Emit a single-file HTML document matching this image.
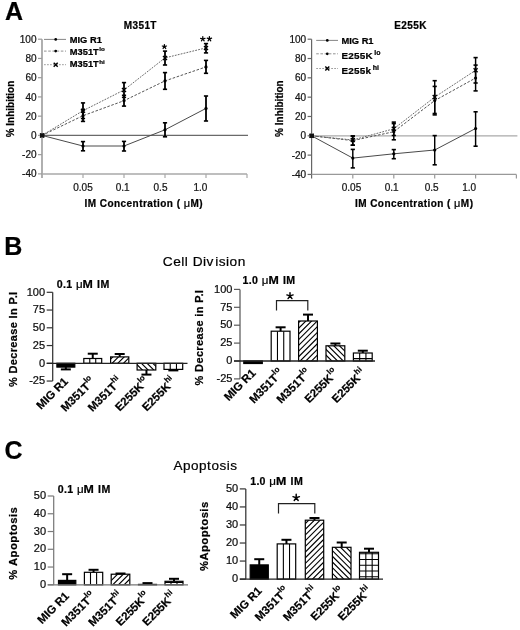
<!DOCTYPE html>
<html><head><meta charset="utf-8"><style>
html,body{margin:0;padding:0;background:#fff;}
svg{display:block;font-family:"Liberation Sans", sans-serif;filter:blur(0.35px);}
text{stroke:#000;stroke-width:0.22px;}
</style></head><body>
<svg width="520" height="630" viewBox="0 0 520 630">
<rect width="520" height="630" fill="#fff"/>
<line x1="42" y1="39.2" x2="42" y2="177.88" stroke="#9c9c9c" stroke-width="1.6" />
<line x1="38" y1="39.2" x2="42" y2="39.2" stroke="#9c9c9c" stroke-width="1.2" />
<text x="36.5" y="42.800000000000004" font-size="10" font-weight="normal" text-anchor="end" fill="#222" >100</text>
<line x1="38" y1="58.44000000000001" x2="42" y2="58.44000000000001" stroke="#9c9c9c" stroke-width="1.2" />
<text x="36.5" y="62.04000000000001" font-size="10" font-weight="normal" text-anchor="end" fill="#222" >80</text>
<line x1="38" y1="77.68" x2="42" y2="77.68" stroke="#9c9c9c" stroke-width="1.2" />
<text x="36.5" y="81.28" font-size="10" font-weight="normal" text-anchor="end" fill="#222" >60</text>
<line x1="38" y1="96.92000000000002" x2="42" y2="96.92000000000002" stroke="#9c9c9c" stroke-width="1.2" />
<text x="36.5" y="100.52000000000001" font-size="10" font-weight="normal" text-anchor="end" fill="#222" >40</text>
<line x1="38" y1="116.16000000000001" x2="42" y2="116.16000000000001" stroke="#9c9c9c" stroke-width="1.2" />
<text x="36.5" y="119.76" font-size="10" font-weight="normal" text-anchor="end" fill="#222" >20</text>
<line x1="38" y1="135.4" x2="42" y2="135.4" stroke="#9c9c9c" stroke-width="1.2" />
<text x="36.5" y="139.0" font-size="10" font-weight="normal" text-anchor="end" fill="#222" >0</text>
<line x1="38" y1="154.64000000000001" x2="42" y2="154.64000000000001" stroke="#9c9c9c" stroke-width="1.2" />
<text x="36.5" y="158.24" font-size="10" font-weight="normal" text-anchor="end" fill="#222" >-20</text>
<line x1="38" y1="173.88" x2="42" y2="173.88" stroke="#9c9c9c" stroke-width="1.2" />
<text x="36.5" y="177.48" font-size="10" font-weight="normal" text-anchor="end" fill="#222" >-40</text>
<line x1="42" y1="173.88" x2="247" y2="173.88" stroke="#a8a8a8" stroke-width="1.5" />
<line x1="83" y1="173.88" x2="83" y2="177.88" stroke="#a8a8a8" stroke-width="1.2" />
<line x1="124" y1="173.88" x2="124" y2="177.88" stroke="#a8a8a8" stroke-width="1.2" />
<line x1="165" y1="173.88" x2="165" y2="177.88" stroke="#a8a8a8" stroke-width="1.2" />
<line x1="206" y1="173.88" x2="206" y2="177.88" stroke="#a8a8a8" stroke-width="1.2" />
<line x1="247" y1="173.88" x2="247" y2="177.88" stroke="#a8a8a8" stroke-width="1.2" />
<line x1="42" y1="135.4" x2="248" y2="135.4" stroke="#6a6a6a" stroke-width="1.3" />
<text x="83" y="190.5" font-size="10" font-weight="normal" text-anchor="middle" fill="#222" >0.05</text>
<text x="122.6" y="190.5" font-size="10" font-weight="normal" text-anchor="middle" fill="#222" >0.1</text>
<text x="160.5" y="190.5" font-size="10" font-weight="normal" text-anchor="middle" fill="#222" >0.5</text>
<text x="200.4" y="190.5" font-size="10" font-weight="normal" text-anchor="middle" fill="#222" >1.0</text>
<text x="143.8" y="207.2" font-size="10" font-weight="bold" text-anchor="middle" fill="#000" letter-spacing="0.45">IM Concentration ( <tspan font-weight="normal" font-size="11">&#956;</tspan>M)</text>
<text transform="translate(13.8,109) rotate(-90)" font-size="10" font-weight="bold" text-anchor="middle">% Inhibition</text>
<text x="140.3" y="28.8" font-size="10" font-weight="bold" text-anchor="middle" fill="#000" letter-spacing="0.4">M351T</text>
<polyline points="42,135.4 83,146.0 124,146.0 165,129.8 206,108.4" fill="none" stroke="#4a4a4a" stroke-width="1" />
<polyline points="42,135.4 83,115.7 124,100.7 165,80.9 206,66.9" fill="none" stroke="#555" stroke-width="1" stroke-dasharray="2.6,1.6"/>
<polyline points="42,135.4 83,110.7 124,90 165,57.9 206,47.9" fill="none" stroke="#6a6a6a" stroke-width="1" stroke-dasharray="1.8,1.2"/>
<line x1="83" y1="141.6" x2="83" y2="150.8" stroke="#000" stroke-width="1.8" />
<line x1="80.9" y1="141.6" x2="85.1" y2="141.6" stroke="#000" stroke-width="1.6" />
<line x1="80.9" y1="150.8" x2="85.1" y2="150.8" stroke="#000" stroke-width="1.6" />
<line x1="124" y1="141.4" x2="124" y2="151" stroke="#000" stroke-width="1.8" />
<line x1="121.9" y1="141.4" x2="126.1" y2="141.4" stroke="#000" stroke-width="1.6" />
<line x1="121.9" y1="151" x2="126.1" y2="151" stroke="#000" stroke-width="1.6" />
<line x1="165" y1="122.8" x2="165" y2="136.8" stroke="#000" stroke-width="1.8" />
<line x1="162.9" y1="122.8" x2="167.1" y2="122.8" stroke="#000" stroke-width="1.6" />
<line x1="162.9" y1="136.8" x2="167.1" y2="136.8" stroke="#000" stroke-width="1.6" />
<line x1="206" y1="96" x2="206" y2="121" stroke="#000" stroke-width="1.8" />
<line x1="203.9" y1="96" x2="208.1" y2="96" stroke="#000" stroke-width="1.6" />
<line x1="203.9" y1="121" x2="208.1" y2="121" stroke="#000" stroke-width="1.6" />
<circle cx="42" cy="135.4" r="1.6" fill="#000"/>
<circle cx="83" cy="146.0" r="1.6" fill="#000"/>
<circle cx="124" cy="146.0" r="1.6" fill="#000"/>
<circle cx="165" cy="129.8" r="1.6" fill="#000"/>
<circle cx="206" cy="108.4" r="1.6" fill="#000"/>
<line x1="83" y1="110" x2="83" y2="121.4" stroke="#000" stroke-width="1.8" />
<line x1="80.9" y1="110" x2="85.1" y2="110" stroke="#000" stroke-width="1.6" />
<line x1="80.9" y1="121.4" x2="85.1" y2="121.4" stroke="#000" stroke-width="1.6" />
<line x1="124" y1="95.3" x2="124" y2="106.1" stroke="#000" stroke-width="1.8" />
<line x1="121.9" y1="95.3" x2="126.1" y2="95.3" stroke="#000" stroke-width="1.6" />
<line x1="121.9" y1="106.1" x2="126.1" y2="106.1" stroke="#000" stroke-width="1.6" />
<line x1="165" y1="72.6" x2="165" y2="89.3" stroke="#000" stroke-width="1.8" />
<line x1="162.9" y1="72.6" x2="167.1" y2="72.6" stroke="#000" stroke-width="1.6" />
<line x1="162.9" y1="89.3" x2="167.1" y2="89.3" stroke="#000" stroke-width="1.6" />
<line x1="206" y1="60.4" x2="206" y2="73.3" stroke="#000" stroke-width="1.8" />
<line x1="203.9" y1="60.4" x2="208.1" y2="60.4" stroke="#000" stroke-width="1.6" />
<line x1="203.9" y1="73.3" x2="208.1" y2="73.3" stroke="#000" stroke-width="1.6" />
<circle cx="42" cy="135.4" r="1.6" fill="#000"/>
<circle cx="83" cy="115.7" r="1.6" fill="#000"/>
<circle cx="124" cy="100.7" r="1.6" fill="#000"/>
<circle cx="165" cy="80.9" r="1.6" fill="#000"/>
<circle cx="206" cy="66.9" r="1.6" fill="#000"/>
<line x1="83" y1="102.9" x2="83" y2="118.5" stroke="#000" stroke-width="1.8" />
<line x1="80.9" y1="102.9" x2="85.1" y2="102.9" stroke="#000" stroke-width="1.6" />
<line x1="80.9" y1="118.5" x2="85.1" y2="118.5" stroke="#000" stroke-width="1.6" />
<line x1="124" y1="82.6" x2="124" y2="97.4" stroke="#000" stroke-width="1.8" />
<line x1="121.9" y1="82.6" x2="126.1" y2="82.6" stroke="#000" stroke-width="1.6" />
<line x1="121.9" y1="97.4" x2="126.1" y2="97.4" stroke="#000" stroke-width="1.6" />
<line x1="165" y1="51.1" x2="165" y2="65" stroke="#000" stroke-width="1.8" />
<line x1="162.9" y1="51.1" x2="167.1" y2="51.1" stroke="#000" stroke-width="1.6" />
<line x1="162.9" y1="65" x2="167.1" y2="65" stroke="#000" stroke-width="1.6" />
<line x1="206" y1="43.6" x2="206" y2="52.9" stroke="#000" stroke-width="1.8" />
<line x1="203.9" y1="43.6" x2="208.1" y2="43.6" stroke="#000" stroke-width="1.6" />
<line x1="203.9" y1="52.9" x2="208.1" y2="52.9" stroke="#000" stroke-width="1.6" />
<path d="M40.0,133.4 L44.0,137.4 M44.0,133.4 L40.0,137.4" stroke="#000" stroke-width="1.4"/>
<path d="M81.0,108.7 L85.0,112.7 M85.0,108.7 L81.0,112.7" stroke="#000" stroke-width="1.4"/>
<path d="M122.0,88.0 L126.0,92.0 M126.0,88.0 L122.0,92.0" stroke="#000" stroke-width="1.4"/>
<path d="M163.0,55.9 L167.0,59.9 M167.0,55.9 L163.0,59.9" stroke="#000" stroke-width="1.4"/>
<path d="M204.0,45.9 L208.0,49.9 M208.0,45.9 L204.0,49.9" stroke="#000" stroke-width="1.4"/>
<line x1="44" y1="39.4" x2="66" y2="39.4" stroke="#666" stroke-width="0.8" />
<circle cx="55.7" cy="39.4" r="1.36" fill="#000"/>
<text x="69.8" y="42.8" font-size="9.3" font-weight="bold" text-anchor="start" fill="#000" >MIG R1</text>
<line x1="44" y1="51.1" x2="66" y2="51.1" stroke="#777" stroke-width="0.8" stroke-dasharray="2.6,1.6"/>
<circle cx="55.7" cy="51.1" r="1.36" fill="#000"/>
<text x="69.8" y="54.6" font-size="9.3" font-weight="bold" letter-spacing="0">M351T<tspan font-size="6.2" dx="0.6" dy="-3.8" letter-spacing="0">lo</tspan></text>
<line x1="44" y1="64.7" x2="66" y2="64.7" stroke="#888" stroke-width="0.8" stroke-dasharray="1.8,1.2"/>
<path d="M53.7,62.7 L57.7,66.7 M57.7,62.7 L53.7,66.7" stroke="#000" stroke-width="1.4"/>
<text x="69.8" y="67.4" font-size="9.3" font-weight="bold" letter-spacing="0">M351T<tspan font-size="6.2" dx="0.6" dy="-3.8" letter-spacing="0">hi</tspan></text>
<rect x="40" y="133.4" width="4.5" height="4" fill="#111"/>
<text x="5" y="20" font-size="25" font-weight="bold">A</text>
<path id="astA1" d="M164.40,46.70 L164.40,44.50 M164.40,46.70 L166.49,46.02 M164.40,46.70 L165.69,48.48 M164.40,46.70 L163.11,48.48 M164.40,46.70 L162.31,46.02" stroke="#000" stroke-width="1.25" stroke-linecap="round" fill="none"/>
<path id="astA2" d="M202.80,39.00 L202.80,36.70 M202.80,39.00 L204.99,38.29 M202.80,39.00 L204.15,40.86 M202.80,39.00 L201.45,40.86 M202.80,39.00 L200.61,38.29" stroke="#000" stroke-width="1.25" stroke-linecap="round" fill="none"/>
<path id="astA3" d="M209.40,38.90 L209.40,36.60 M209.40,38.90 L211.59,38.19 M209.40,38.90 L210.75,40.76 M209.40,38.90 L208.05,40.76 M209.40,38.90 L207.21,38.19" stroke="#000" stroke-width="1.25" stroke-linecap="round" fill="none"/>
<line x1="311.6" y1="39.20000000000002" x2="311.6" y2="178.44" stroke="#666" stroke-width="1.2" />
<line x1="307.6" y1="39.20000000000002" x2="311.6" y2="39.20000000000002" stroke="#666" stroke-width="1.2" />
<text x="306.1" y="42.80000000000002" font-size="10" font-weight="normal" text-anchor="end" fill="#222" >100</text>
<line x1="307.6" y1="58.52000000000001" x2="311.6" y2="58.52000000000001" stroke="#666" stroke-width="1.2" />
<text x="306.1" y="62.12000000000001" font-size="10" font-weight="normal" text-anchor="end" fill="#222" >80</text>
<line x1="307.6" y1="77.84" x2="311.6" y2="77.84" stroke="#666" stroke-width="1.2" />
<text x="306.1" y="81.44" font-size="10" font-weight="normal" text-anchor="end" fill="#222" >60</text>
<line x1="307.6" y1="97.16000000000001" x2="311.6" y2="97.16000000000001" stroke="#666" stroke-width="1.2" />
<text x="306.1" y="100.76" font-size="10" font-weight="normal" text-anchor="end" fill="#222" >40</text>
<line x1="307.6" y1="116.48000000000002" x2="311.6" y2="116.48000000000002" stroke="#666" stroke-width="1.2" />
<text x="306.1" y="120.08000000000001" font-size="10" font-weight="normal" text-anchor="end" fill="#222" >20</text>
<line x1="307.6" y1="135.8" x2="311.6" y2="135.8" stroke="#666" stroke-width="1.2" />
<text x="306.1" y="139.4" font-size="10" font-weight="normal" text-anchor="end" fill="#222" >0</text>
<line x1="307.6" y1="155.12" x2="311.6" y2="155.12" stroke="#666" stroke-width="1.2" />
<text x="306.1" y="158.72" font-size="10" font-weight="normal" text-anchor="end" fill="#222" >-20</text>
<line x1="307.6" y1="174.44" x2="311.6" y2="174.44" stroke="#666" stroke-width="1.2" />
<text x="306.1" y="178.04" font-size="10" font-weight="normal" text-anchor="end" fill="#222" >-40</text>
<line x1="311.6" y1="174.44" x2="516.4" y2="174.44" stroke="#999" stroke-width="1.2" />
<line x1="352.8" y1="174.44" x2="352.8" y2="178.44" stroke="#999" stroke-width="1.2" />
<line x1="393.8" y1="174.44" x2="393.8" y2="178.44" stroke="#999" stroke-width="1.2" />
<line x1="434.7" y1="174.44" x2="434.7" y2="178.44" stroke="#999" stroke-width="1.2" />
<line x1="475.6" y1="174.44" x2="475.6" y2="178.44" stroke="#999" stroke-width="1.2" />
<line x1="516.4" y1="174.44" x2="516.4" y2="178.44" stroke="#999" stroke-width="1.2" />
<line x1="311.6" y1="135.8" x2="517.4" y2="135.8" stroke="#aaaaaa" stroke-width="1.3" />
<text x="351.5" y="190.5" font-size="10" font-weight="normal" text-anchor="middle" fill="#222" >0.05</text>
<text x="391.6" y="190.5" font-size="10" font-weight="normal" text-anchor="middle" fill="#222" >0.1</text>
<text x="431.6" y="190.5" font-size="10" font-weight="normal" text-anchor="middle" fill="#222" >0.5</text>
<text x="469.2" y="190.5" font-size="10" font-weight="normal" text-anchor="middle" fill="#222" >1.0</text>
<text x="414.2" y="207.2" font-size="10" font-weight="bold" text-anchor="middle" fill="#000" letter-spacing="0.45">IM Concentration ( <tspan font-weight="normal" font-size="11">&#956;</tspan>M)</text>
<text transform="translate(282.5,108.6) rotate(-90)" font-size="10" font-weight="bold" text-anchor="middle">% Inhibition</text>
<text x="410.6" y="28.9" font-size="10" font-weight="bold" text-anchor="middle" fill="#000" letter-spacing="0.4">E255K</text>
<polyline points="311.6,135.8 352.8,158.1 393.8,153.8 434.7,150 475.6,128.5" fill="none" stroke="#4a4a4a" stroke-width="1" />
<polyline points="311.6,135.8 352.8,140.6 393.8,131.7 434.7,100.6 475.6,78" fill="none" stroke="#555" stroke-width="1" stroke-dasharray="2.6,1.6"/>
<polyline points="311.6,135.8 352.8,140.0 393.8,128.8 434.7,97.1 475.6,70.3" fill="none" stroke="#6a6a6a" stroke-width="1" stroke-dasharray="1.8,1.2"/>
<line x1="352.8" y1="149.4" x2="352.8" y2="167.9" stroke="#000" stroke-width="1.45" />
<line x1="350.7" y1="149.4" x2="354.90000000000003" y2="149.4" stroke="#000" stroke-width="1.6" />
<line x1="350.7" y1="167.9" x2="354.90000000000003" y2="167.9" stroke="#000" stroke-width="1.6" />
<line x1="393.8" y1="149.6" x2="393.8" y2="158.7" stroke="#000" stroke-width="1.45" />
<line x1="391.7" y1="149.6" x2="395.90000000000003" y2="149.6" stroke="#000" stroke-width="1.6" />
<line x1="391.7" y1="158.7" x2="395.90000000000003" y2="158.7" stroke="#000" stroke-width="1.6" />
<line x1="434.7" y1="135.6" x2="434.7" y2="164.8" stroke="#000" stroke-width="1.45" />
<line x1="432.59999999999997" y1="135.6" x2="436.8" y2="135.6" stroke="#000" stroke-width="1.6" />
<line x1="432.59999999999997" y1="164.8" x2="436.8" y2="164.8" stroke="#000" stroke-width="1.6" />
<line x1="475.6" y1="111.8" x2="475.6" y2="146.2" stroke="#000" stroke-width="1.45" />
<line x1="473.5" y1="111.8" x2="477.70000000000005" y2="111.8" stroke="#000" stroke-width="1.6" />
<line x1="473.5" y1="146.2" x2="477.70000000000005" y2="146.2" stroke="#000" stroke-width="1.6" />
<circle cx="311.6" cy="135.8" r="1.6" fill="#000"/>
<circle cx="352.8" cy="158.1" r="1.6" fill="#000"/>
<circle cx="393.8" cy="153.8" r="1.6" fill="#000"/>
<circle cx="434.7" cy="150" r="1.6" fill="#000"/>
<circle cx="475.6" cy="128.5" r="1.6" fill="#000"/>
<line x1="352.8" y1="136.0" x2="352.8" y2="145.2" stroke="#000" stroke-width="1.45" />
<line x1="350.7" y1="136.0" x2="354.90000000000003" y2="136.0" stroke="#000" stroke-width="1.6" />
<line x1="350.7" y1="145.2" x2="354.90000000000003" y2="145.2" stroke="#000" stroke-width="1.6" />
<line x1="393.8" y1="123.6" x2="393.8" y2="139.8" stroke="#000" stroke-width="1.45" />
<line x1="391.7" y1="123.6" x2="395.90000000000003" y2="123.6" stroke="#000" stroke-width="1.6" />
<line x1="391.7" y1="139.8" x2="395.90000000000003" y2="139.8" stroke="#000" stroke-width="1.6" />
<line x1="434.7" y1="86.4" x2="434.7" y2="114.9" stroke="#000" stroke-width="1.45" />
<line x1="432.59999999999997" y1="86.4" x2="436.8" y2="86.4" stroke="#000" stroke-width="1.6" />
<line x1="432.59999999999997" y1="114.9" x2="436.8" y2="114.9" stroke="#000" stroke-width="1.6" />
<line x1="475.6" y1="65.1" x2="475.6" y2="90.9" stroke="#000" stroke-width="1.45" />
<line x1="473.5" y1="65.1" x2="477.70000000000005" y2="65.1" stroke="#000" stroke-width="1.6" />
<line x1="473.5" y1="90.9" x2="477.70000000000005" y2="90.9" stroke="#000" stroke-width="1.6" />
<circle cx="311.6" cy="135.8" r="1.6" fill="#000"/>
<circle cx="352.8" cy="140.6" r="1.6" fill="#000"/>
<circle cx="393.8" cy="131.7" r="1.6" fill="#000"/>
<circle cx="434.7" cy="100.6" r="1.6" fill="#000"/>
<circle cx="475.6" cy="78" r="1.6" fill="#000"/>
<line x1="352.8" y1="136.0" x2="352.8" y2="145.2" stroke="#000" stroke-width="1.45" />
<line x1="350.7" y1="136.0" x2="354.90000000000003" y2="136.0" stroke="#000" stroke-width="1.6" />
<line x1="350.7" y1="145.2" x2="354.90000000000003" y2="145.2" stroke="#000" stroke-width="1.6" />
<line x1="393.8" y1="122.1" x2="393.8" y2="135.5" stroke="#000" stroke-width="1.45" />
<line x1="391.7" y1="122.1" x2="395.90000000000003" y2="122.1" stroke="#000" stroke-width="1.6" />
<line x1="391.7" y1="135.5" x2="395.90000000000003" y2="135.5" stroke="#000" stroke-width="1.6" />
<line x1="434.7" y1="80.7" x2="434.7" y2="113.5" stroke="#000" stroke-width="1.45" />
<line x1="432.59999999999997" y1="80.7" x2="436.8" y2="80.7" stroke="#000" stroke-width="1.6" />
<line x1="432.59999999999997" y1="113.5" x2="436.8" y2="113.5" stroke="#000" stroke-width="1.6" />
<line x1="475.6" y1="57.6" x2="475.6" y2="83" stroke="#000" stroke-width="1.45" />
<line x1="473.5" y1="57.6" x2="477.70000000000005" y2="57.6" stroke="#000" stroke-width="1.6" />
<line x1="473.5" y1="83" x2="477.70000000000005" y2="83" stroke="#000" stroke-width="1.6" />
<path d="M309.6,133.8 L313.6,137.8 M313.6,133.8 L309.6,137.8" stroke="#000" stroke-width="1.4"/>
<path d="M350.8,138.0 L354.8,142.0 M354.8,138.0 L350.8,142.0" stroke="#000" stroke-width="1.4"/>
<path d="M391.8,126.80000000000001 L395.8,130.8 M395.8,126.80000000000001 L391.8,130.8" stroke="#000" stroke-width="1.4"/>
<path d="M432.7,95.1 L436.7,99.1 M436.7,95.1 L432.7,99.1" stroke="#000" stroke-width="1.4"/>
<path d="M473.6,68.3 L477.6,72.3 M477.6,68.3 L473.6,72.3" stroke="#000" stroke-width="1.4"/>
<line x1="316.2" y1="40.4" x2="338" y2="40.4" stroke="#666" stroke-width="0.8" />
<circle cx="327.3" cy="40.4" r="1.36" fill="#000"/>
<text x="341.5" y="44" font-size="9.3" font-weight="bold" text-anchor="start" fill="#000" >MIG R1</text>
<line x1="316.2" y1="53.8" x2="338" y2="53.8" stroke="#777" stroke-width="0.8" stroke-dasharray="2.6,1.6"/>
<circle cx="327.3" cy="53.8" r="1.36" fill="#000"/>
<text x="341.5" y="59.3" font-size="9.9" font-weight="bold" letter-spacing="0.25">E255K<tspan font-size="7" dx="1.4" dy="-4.4" letter-spacing="0">lo</tspan></text>
<line x1="316.2" y1="68.5" x2="338" y2="68.5" stroke="#888" stroke-width="0.8" stroke-dasharray="1.8,1.2"/>
<path d="M325.3,66.5 L329.3,70.5 M329.3,66.5 L325.3,70.5" stroke="#000" stroke-width="1.4"/>
<text x="341.5" y="74.2" font-size="9.9" font-weight="bold" letter-spacing="0.25">E255k<tspan font-size="7" dx="1.4" dy="-4.4" letter-spacing="0">hi</tspan></text>
<rect x="309.5" y="133.8" width="4.5" height="4" fill="#111"/>
<defs>
<pattern id="pv" patternUnits="userSpaceOnUse" width="6.2" height="10"><rect width="6.2" height="10" fill="#fff"/><line x1="0" y1="0" x2="0" y2="10" stroke="#000" stroke-width="1.2"/></pattern>
<pattern id="pf" patternUnits="userSpaceOnUse" width="5.7" height="5.7" patternTransform="rotate(0)"><rect width="5.7" height="5.7" fill="#fff"/><path d="M-1,6.7 L6.7,-1 M-1,1 L1,-1 M4.7,6.7 L6.7,4.7" stroke="#000" stroke-width="1.1"/></pattern>
<pattern id="pb" patternUnits="userSpaceOnUse" width="5.7" height="5.7"><rect width="5.7" height="5.7" fill="#fff"/><path d="M-1,-1 L6.7,6.7 M4.7,-1 L6.7,1 M-1,4.7 L1,6.7" stroke="#000" stroke-width="1.1"/></pattern>
<pattern id="pg" patternUnits="userSpaceOnUse" width="6.2" height="5.8"><rect width="6.2" height="5.8" fill="#fff"/><path d="M0,0 L0,5.8 M0,0 L6.2,0" stroke="#000" stroke-width="1.2"/></pattern>
</defs>
<text x="4.3" y="255" font-size="25" font-weight="bold">B</text>
<text id="cdv" x="162.8" y="266.2" font-size="13.7" stroke="#000" stroke-width="0.3" letter-spacing="0.5">Cell Div<tspan dx="1.2">ision</tspan></text>
<line x1="52.7" y1="292.3" x2="52.7" y2="381.05" stroke="#333" stroke-width="1.25" />
<line x1="46.7" y1="292.3" x2="52.7" y2="292.3" stroke="#333" stroke-width="1.2" />
<text x="45.1" y="295.5" font-size="11" font-weight="normal" text-anchor="end" fill="#111" >100</text>
<line x1="46.7" y1="310.05" x2="52.7" y2="310.05" stroke="#333" stroke-width="1.2" />
<text x="45.1" y="313.25" font-size="11" font-weight="normal" text-anchor="end" fill="#111" >75</text>
<line x1="46.7" y1="327.8" x2="52.7" y2="327.8" stroke="#333" stroke-width="1.2" />
<text x="45.1" y="331.0" font-size="11" font-weight="normal" text-anchor="end" fill="#111" >50</text>
<line x1="46.7" y1="345.55" x2="52.7" y2="345.55" stroke="#333" stroke-width="1.2" />
<text x="45.1" y="348.75" font-size="11" font-weight="normal" text-anchor="end" fill="#111" >25</text>
<line x1="46.7" y1="363.3" x2="52.7" y2="363.3" stroke="#333" stroke-width="1.2" />
<text x="45.1" y="366.5" font-size="11" font-weight="normal" text-anchor="end" fill="#111" >0</text>
<line x1="46.7" y1="381.05" x2="52.7" y2="381.05" stroke="#333" stroke-width="1.2" />
<text x="45.1" y="384.25" font-size="11" font-weight="normal" text-anchor="end" fill="#111" >-25</text>
<text y="288.0" font-size="10.6" font-weight="bold"><tspan x="56.8" letter-spacing="0.3">0.1</tspan><tspan x="75.9" font-weight="normal" font-size="11.6">&#956;</tspan><tspan x="97.1" letter-spacing="0.5">IM</tspan></text>
<text transform="translate(82.6,288.0) scale(1.17,1)" font-size="10.6" font-weight="bold">M</text>
<rect x="56.9" y="363.3" width="17.9" height="3.8000000000000114" fill="#000" stroke="#000" stroke-width="1.2"/>
<line x1="65.85" y1="367.1" x2="65.85" y2="369.4" stroke="#000" stroke-width="2" />
<line x1="60.849999999999994" y1="369.4" x2="70.85" y2="369.4" stroke="#000" stroke-width="2" />
<clipPath id="cb1"><rect x="83.8" y="358.5" width="17.900000000000006" height="4.800000000000011"/></clipPath>
<rect x="83.8" y="358.5" width="17.900000000000006" height="4.800000000000011" fill="#fff"/>
<path clip-path="url(#cb1)" d="M89.77,358.5 V363.3 M95.73,358.5 V363.3" stroke="#000" stroke-width="1.1" fill="none"/>
<rect x="83.8" y="358.5" width="17.900000000000006" height="4.800000000000011" fill="none" stroke="#000" stroke-width="1.2"/>
<line x1="92.75" y1="358.5" x2="92.75" y2="353.7" stroke="#000" stroke-width="2" />
<line x1="87.75" y1="353.7" x2="97.75" y2="353.7" stroke="#000" stroke-width="2" />
<clipPath id="cb2"><rect x="110.6" y="356.9" width="18.200000000000017" height="6.400000000000034"/></clipPath>
<rect x="110.6" y="356.9" width="18.200000000000017" height="6.400000000000034" fill="#fff"/>
<path clip-path="url(#cb2)" d="M109.6,354.40 L129.8,334.20 M109.6,360.10 L129.8,339.90 M109.6,365.80 L129.8,345.60 M109.6,371.50 L129.8,351.30 M109.6,377.20 L129.8,357.00 M109.6,382.90 L129.8,362.70 M109.6,388.60 L129.8,368.40" stroke="#000" stroke-width="1.15" fill="none"/>
<rect x="110.6" y="356.9" width="18.200000000000017" height="6.400000000000034" fill="none" stroke="#000" stroke-width="1.2"/>
<line x1="119.7" y1="356.9" x2="119.7" y2="354" stroke="#000" stroke-width="2" />
<line x1="114.7" y1="354" x2="124.7" y2="354" stroke="#000" stroke-width="2" />
<clipPath id="cb3"><rect x="137.1" y="363.3" width="18.700000000000017" height="6.699999999999989"/></clipPath>
<rect x="137.1" y="363.3" width="18.700000000000017" height="6.699999999999989" fill="#fff"/>
<path clip-path="url(#cb3)" d="M136.1,340.90 L156.8,361.60 M136.1,346.60 L156.8,367.30 M136.1,352.30 L156.8,373.00 M136.1,358.00 L156.8,378.70 M136.1,363.70 L156.8,384.40 M136.1,369.40 L156.8,390.10 M136.1,375.10 L156.8,395.80" stroke="#000" stroke-width="1.15" fill="none"/>
<rect x="137.1" y="363.3" width="18.700000000000017" height="6.699999999999989" fill="none" stroke="#000" stroke-width="1.2"/>
<line x1="146.45" y1="370" x2="146.45" y2="374.6" stroke="#000" stroke-width="2" />
<line x1="141.45" y1="374.6" x2="151.45" y2="374.6" stroke="#000" stroke-width="2" />
<clipPath id="cb4"><rect x="164" y="363.3" width="18.69999999999999" height="6.099999999999966"/></clipPath>
<rect x="164" y="363.3" width="18.69999999999999" height="6.099999999999966" fill="#fff"/>
<path clip-path="url(#cb4)" d="M170.23,363.3 V369.4 M176.47,363.3 V369.4" stroke="#000" stroke-width="1.1" fill="none"/>
<rect x="164" y="363.3" width="18.69999999999999" height="6.099999999999966" fill="none" stroke="#000" stroke-width="1.2"/>
<line x1="173.35" y1="369.4" x2="173.35" y2="370.4" stroke="#000" stroke-width="2" />
<line x1="168.35" y1="370.4" x2="178.35" y2="370.4" stroke="#000" stroke-width="2" />
<line x1="46.7" y1="363.3" x2="187.5" y2="363.3" stroke="#222" stroke-width="1.3" />
<text transform="translate(16.5,339.3) rotate(-90)" font-size="11" font-weight="bold" text-anchor="middle" letter-spacing="0.35">% Decrease In P.I</text>
<text id="lbBL0" transform="translate(68.8,382.2) rotate(-45)" font-size="11.4" font-weight="bold" text-anchor="end">MIG R1</text>
<text id="lbBL1" transform="translate(95.7,382.2) rotate(-45)" font-size="11.4" font-weight="bold" text-anchor="end">M351T<tspan font-size="8" dy="-5.5">lo</tspan></text>
<text id="lbBL2" transform="translate(122.7,382.2) rotate(-45)" font-size="11.4" font-weight="bold" text-anchor="end">M351T<tspan font-size="8" dy="-5.5">hi</tspan></text>
<text id="lbBL3" transform="translate(149.4,382.2) rotate(-45)" font-size="11.4" font-weight="bold" text-anchor="end">E255K<tspan font-size="8" dy="-5.5">lo</tspan></text>
<text id="lbBL4" transform="translate(176.3,382.2) rotate(-45)" font-size="11.4" font-weight="bold" text-anchor="end">E255K<tspan font-size="8" dy="-5.5">hi</tspan></text>
<line x1="240" y1="289.4" x2="240" y2="378.9" stroke="#5a5a5a" stroke-width="1.25" />
<line x1="234" y1="289.4" x2="240" y2="289.4" stroke="#5a5a5a" stroke-width="1.2" />
<text x="232.4" y="292.59999999999997" font-size="11" font-weight="normal" text-anchor="end" fill="#111" >100</text>
<line x1="234" y1="307.3" x2="240" y2="307.3" stroke="#5a5a5a" stroke-width="1.2" />
<text x="232.4" y="310.5" font-size="11" font-weight="normal" text-anchor="end" fill="#111" >75</text>
<line x1="234" y1="325.2" x2="240" y2="325.2" stroke="#5a5a5a" stroke-width="1.2" />
<text x="232.4" y="328.4" font-size="11" font-weight="normal" text-anchor="end" fill="#111" >50</text>
<line x1="234" y1="343.1" x2="240" y2="343.1" stroke="#5a5a5a" stroke-width="1.2" />
<text x="232.4" y="346.3" font-size="11" font-weight="normal" text-anchor="end" fill="#111" >25</text>
<line x1="234" y1="361.0" x2="240" y2="361.0" stroke="#5a5a5a" stroke-width="1.2" />
<text x="232.4" y="364.2" font-size="11" font-weight="normal" text-anchor="end" fill="#111" >0</text>
<line x1="234" y1="378.9" x2="240" y2="378.9" stroke="#5a5a5a" stroke-width="1.2" />
<text x="232.4" y="382.09999999999997" font-size="11" font-weight="normal" text-anchor="end" fill="#111" >-25</text>
<text y="284" font-size="10.6" font-weight="bold"><tspan x="242.60000000000002" letter-spacing="0.3">1.0</tspan><tspan x="261.7" font-weight="normal" font-size="11.6">&#956;</tspan><tspan x="282.90000000000003" letter-spacing="0.5">IM</tspan></text>
<text transform="translate(268.40000000000003,284) scale(1.17,1)" font-size="10.6" font-weight="bold">M</text>
<rect x="243.8" y="361" width="18.5" height="2.5" fill="#000" stroke="#000" stroke-width="1.2"/>
<clipPath id="cb5"><rect x="271.2" y="331.2" width="18.80000000000001" height="29.80000000000001"/></clipPath>
<rect x="271.2" y="331.2" width="18.80000000000001" height="29.80000000000001" fill="#fff"/>
<path clip-path="url(#cb5)" d="M277.47,331.2 V361 M283.73,331.2 V361" stroke="#000" stroke-width="1.1" fill="none"/>
<rect x="271.2" y="331.2" width="18.80000000000001" height="29.80000000000001" fill="none" stroke="#000" stroke-width="1.2"/>
<line x1="280.6" y1="331.2" x2="280.6" y2="327.3" stroke="#000" stroke-width="2" />
<line x1="275.6" y1="327.3" x2="285.6" y2="327.3" stroke="#000" stroke-width="2" />
<clipPath id="cb6"><rect x="298.6" y="321" width="18.799999999999955" height="40"/></clipPath>
<rect x="298.6" y="321" width="18.799999999999955" height="40" fill="#fff"/>
<path clip-path="url(#cb6)" d="M297.6,317.90 L318.4,297.10 M297.6,323.60 L318.4,302.80 M297.6,329.30 L318.4,308.50 M297.6,335.00 L318.4,314.20 M297.6,340.70 L318.4,319.90 M297.6,346.40 L318.4,325.60 M297.6,352.10 L318.4,331.30 M297.6,357.80 L318.4,337.00 M297.6,363.50 L318.4,342.70 M297.6,369.20 L318.4,348.40 M297.6,374.90 L318.4,354.10 M297.6,380.60 L318.4,359.80 M297.6,386.30 L318.4,365.50" stroke="#000" stroke-width="1.15" fill="none"/>
<rect x="298.6" y="321" width="18.799999999999955" height="40" fill="none" stroke="#000" stroke-width="1.2"/>
<line x1="308.0" y1="321" x2="308.0" y2="314.6" stroke="#000" stroke-width="2" />
<line x1="303.0" y1="314.6" x2="313.0" y2="314.6" stroke="#000" stroke-width="2" />
<clipPath id="cb7"><rect x="326" y="345.8" width="18.80000000000001" height="15.199999999999989"/></clipPath>
<rect x="326" y="345.8" width="18.80000000000001" height="15.199999999999989" fill="#fff"/>
<path clip-path="url(#cb7)" d="M325,319.90 L345.8,340.70 M325,325.60 L345.8,346.40 M325,331.30 L345.8,352.10 M325,337.00 L345.8,357.80 M325,342.70 L345.8,363.50 M325,348.40 L345.8,369.20 M325,354.10 L345.8,374.90 M325,359.80 L345.8,380.60 M325,365.50 L345.8,386.30" stroke="#000" stroke-width="1.15" fill="none"/>
<rect x="326" y="345.8" width="18.80000000000001" height="15.199999999999989" fill="none" stroke="#000" stroke-width="1.2"/>
<line x1="335.4" y1="345.8" x2="335.4" y2="343.5" stroke="#000" stroke-width="2" />
<line x1="330.4" y1="343.5" x2="340.4" y2="343.5" stroke="#000" stroke-width="2" />
<clipPath id="cb8"><rect x="353.4" y="353" width="18.80000000000001" height="8"/></clipPath>
<rect x="353.4" y="353" width="18.80000000000001" height="8" fill="#fff"/>
<path clip-path="url(#cb8)" d="M359.67,353 V361 M365.93,353 V361 M353.4,358.60 H372.2" stroke="#000" stroke-width="1.1" fill="none"/>
<rect x="353.4" y="353" width="18.80000000000001" height="8" fill="none" stroke="#000" stroke-width="1.2"/>
<line x1="362.79999999999995" y1="353" x2="362.79999999999995" y2="350.7" stroke="#000" stroke-width="2" />
<line x1="357.79999999999995" y1="350.7" x2="367.79999999999995" y2="350.7" stroke="#000" stroke-width="2" />
<line x1="234" y1="361" x2="375" y2="361" stroke="#222" stroke-width="1.3" />
<text transform="translate(203,337.6) rotate(-90)" font-size="11" font-weight="bold" text-anchor="middle" letter-spacing="0.35">% Decrease in P.I</text>
<text id="lbBR0" transform="translate(256.4,373.8) rotate(-45)" font-size="11.4" font-weight="bold" text-anchor="end">MIG R1</text>
<text id="lbBR1" transform="translate(284.0,373.8) rotate(-45)" font-size="11.4" font-weight="bold" text-anchor="end">M351T<tspan font-size="8" dy="-5.5">lo</tspan></text>
<text id="lbBR2" transform="translate(311.4,373.8) rotate(-45)" font-size="11.4" font-weight="bold" text-anchor="end">M351T<tspan font-size="8" dy="-5.5">lo</tspan></text>
<text id="lbBR3" transform="translate(338.79999999999995,373.8) rotate(-45)" font-size="11.4" font-weight="bold" text-anchor="end">E255K<tspan font-size="8" dy="-5.5">lo</tspan></text>
<text id="lbBR4" transform="translate(366.2,373.8) rotate(-45)" font-size="11.4" font-weight="bold" text-anchor="end">E255K<tspan font-size="8" dy="-5.5">hi</tspan></text>
<path d="M276.5,310.5 V300.6 H307.8 V310.5" fill="none" stroke="#222" stroke-width="1.2"/>
<path id="astB" d="M290.00,295.90 L290.00,292.60 M290.00,295.90 L293.14,294.88 M290.00,295.90 L291.94,298.57 M290.00,295.90 L288.06,298.57 M290.00,295.90 L286.86,294.88" stroke="#000" stroke-width="1.45" stroke-linecap="round" fill="none"/>
<text x="4.5" y="458.8" font-size="25" font-weight="bold">C</text>
<text id="apo" x="173.4" y="470.4" font-size="13.5" stroke="#000" stroke-width="0.3" letter-spacing="0.55">Apoptosis</text>
<line x1="53.7" y1="495.99999999999994" x2="53.7" y2="584.8" stroke="#7a7a7a" stroke-width="1.25" />
<line x1="47.7" y1="495.99999999999994" x2="53.7" y2="495.99999999999994" stroke="#7a7a7a" stroke-width="1.2" />
<text x="46.1" y="499.19999999999993" font-size="11" font-weight="normal" text-anchor="end" fill="#111" >50</text>
<line x1="47.7" y1="513.76" x2="53.7" y2="513.76" stroke="#7a7a7a" stroke-width="1.2" />
<text x="46.1" y="516.96" font-size="11" font-weight="normal" text-anchor="end" fill="#111" >40</text>
<line x1="47.7" y1="531.52" x2="53.7" y2="531.52" stroke="#7a7a7a" stroke-width="1.2" />
<text x="46.1" y="534.72" font-size="11" font-weight="normal" text-anchor="end" fill="#111" >30</text>
<line x1="47.7" y1="549.28" x2="53.7" y2="549.28" stroke="#7a7a7a" stroke-width="1.2" />
<text x="46.1" y="552.48" font-size="11" font-weight="normal" text-anchor="end" fill="#111" >20</text>
<line x1="47.7" y1="567.04" x2="53.7" y2="567.04" stroke="#7a7a7a" stroke-width="1.2" />
<text x="46.1" y="570.24" font-size="11" font-weight="normal" text-anchor="end" fill="#111" >10</text>
<line x1="47.7" y1="584.8" x2="53.7" y2="584.8" stroke="#7a7a7a" stroke-width="1.2" />
<text x="46.1" y="588.0" font-size="11" font-weight="normal" text-anchor="end" fill="#111" >0</text>
<text y="493" font-size="10.6" font-weight="bold"><tspan x="57.8" letter-spacing="0.3">0.1</tspan><tspan x="76.9" font-weight="normal" font-size="11.6">&#956;</tspan><tspan x="98.1" letter-spacing="0.5">IM</tspan></text>
<text transform="translate(83.6,493) scale(1.17,1)" font-size="10.6" font-weight="bold">M</text>
<rect x="58.5" y="580.4" width="17.299999999999997" height="4.399999999999977" fill="#000" stroke="#000" stroke-width="1.2"/>
<line x1="67.15" y1="580.4" x2="67.15" y2="574.2" stroke="#000" stroke-width="2" />
<line x1="62.150000000000006" y1="574.2" x2="72.15" y2="574.2" stroke="#000" stroke-width="2" />
<clipPath id="cb9"><rect x="84.4" y="572.3" width="18.299999999999997" height="12.5"/></clipPath>
<rect x="84.4" y="572.3" width="18.299999999999997" height="12.5" fill="#fff"/>
<path clip-path="url(#cb9)" d="M90.50,572.3 V584.8 M96.60,572.3 V584.8" stroke="#000" stroke-width="1.1" fill="none"/>
<rect x="84.4" y="572.3" width="18.299999999999997" height="12.5" fill="none" stroke="#000" stroke-width="1.2"/>
<line x1="93.55000000000001" y1="572.3" x2="93.55000000000001" y2="569.8" stroke="#000" stroke-width="2" />
<line x1="88.55000000000001" y1="569.8" x2="98.55000000000001" y2="569.8" stroke="#000" stroke-width="2" />
<clipPath id="cb10"><rect x="111.2" y="574.2" width="18.60000000000001" height="10.599999999999909"/></clipPath>
<rect x="111.2" y="574.2" width="18.60000000000001" height="10.599999999999909" fill="#fff"/>
<path clip-path="url(#cb10)" d="M110.2,570.20 L130.8,549.60 M110.2,575.90 L130.8,555.30 M110.2,581.60 L130.8,561.00 M110.2,587.30 L130.8,566.70 M110.2,593.00 L130.8,572.40 M110.2,598.70 L130.8,578.10 M110.2,604.40 L130.8,583.80 M110.2,610.10 L130.8,589.50" stroke="#000" stroke-width="1.15" fill="none"/>
<rect x="111.2" y="574.2" width="18.60000000000001" height="10.599999999999909" fill="none" stroke="#000" stroke-width="1.2"/>
<line x1="120.5" y1="574.2" x2="120.5" y2="573.5" stroke="#000" stroke-width="2" />
<line x1="115.5" y1="573.5" x2="125.5" y2="573.5" stroke="#000" stroke-width="2" />
<rect x="138.5" y="584.4" width="18.0" height="0.39999999999997726" fill="#fff" stroke="#000" stroke-width="1.2"/>
<line x1="147.5" y1="584.4" x2="147.5" y2="583.1" stroke="#000" stroke-width="2" />
<line x1="142.5" y1="583.1" x2="152.5" y2="583.1" stroke="#000" stroke-width="2" />
<clipPath id="cb11"><rect x="165" y="581.3" width="18" height="3.5"/></clipPath>
<rect x="165" y="581.3" width="18" height="3.5" fill="#fff"/>
<path clip-path="url(#cb11)" d="M171.00,581.3 V584.8 M177.00,581.3 V584.8 M165,582.40 H183" stroke="#000" stroke-width="1.1" fill="none"/>
<rect x="165" y="581.3" width="18" height="3.5" fill="none" stroke="#000" stroke-width="1.2"/>
<line x1="174.0" y1="581.3" x2="174.0" y2="578.8" stroke="#000" stroke-width="2" />
<line x1="169.0" y1="578.8" x2="179.0" y2="578.8" stroke="#000" stroke-width="2" />
<line x1="47.7" y1="584.8" x2="188" y2="584.8" stroke="#777" stroke-width="1.3" />
<text transform="translate(16.8,543.2) rotate(-90)" font-size="11.3" font-weight="bold" text-anchor="middle" letter-spacing="0.45">% Apoptosis</text>
<text id="lbCL0" transform="translate(69.7,596.8) rotate(-45)" font-size="11.4" font-weight="bold" text-anchor="end">MIG R1</text>
<text id="lbCL1" transform="translate(96.2,596.8) rotate(-45)" font-size="11.4" font-weight="bold" text-anchor="end">M351T<tspan font-size="8" dy="-5.5">lo</tspan></text>
<text id="lbCL2" transform="translate(123.2,596.8) rotate(-45)" font-size="11.4" font-weight="bold" text-anchor="end">M351T<tspan font-size="8" dy="-5.5">hi</tspan></text>
<text id="lbCL3" transform="translate(150.2,596.8) rotate(-45)" font-size="11.4" font-weight="bold" text-anchor="end">E255K<tspan font-size="8" dy="-5.5">lo</tspan></text>
<text id="lbCL4" transform="translate(176.7,596.8) rotate(-45)" font-size="11.4" font-weight="bold" text-anchor="end">E255K<tspan font-size="8" dy="-5.5">hi</tspan></text>
<line x1="245.8" y1="488.90000000000003" x2="245.8" y2="579.1" stroke="#333" stroke-width="1.25" />
<line x1="239.8" y1="488.90000000000003" x2="245.8" y2="488.90000000000003" stroke="#333" stroke-width="1.2" />
<text x="238.20000000000002" y="492.1" font-size="11" font-weight="normal" text-anchor="end" fill="#111" >50</text>
<line x1="239.8" y1="506.94000000000005" x2="245.8" y2="506.94000000000005" stroke="#333" stroke-width="1.2" />
<text x="238.20000000000002" y="510.14000000000004" font-size="11" font-weight="normal" text-anchor="end" fill="#111" >40</text>
<line x1="239.8" y1="524.98" x2="245.8" y2="524.98" stroke="#333" stroke-width="1.2" />
<text x="238.20000000000002" y="528.1800000000001" font-size="11" font-weight="normal" text-anchor="end" fill="#111" >30</text>
<line x1="239.8" y1="543.02" x2="245.8" y2="543.02" stroke="#333" stroke-width="1.2" />
<text x="238.20000000000002" y="546.22" font-size="11" font-weight="normal" text-anchor="end" fill="#111" >20</text>
<line x1="239.8" y1="561.0600000000001" x2="245.8" y2="561.0600000000001" stroke="#333" stroke-width="1.2" />
<text x="238.20000000000002" y="564.2600000000001" font-size="11" font-weight="normal" text-anchor="end" fill="#111" >10</text>
<line x1="239.8" y1="579.1" x2="245.8" y2="579.1" stroke="#333" stroke-width="1.2" />
<text x="238.20000000000002" y="582.3000000000001" font-size="11" font-weight="normal" text-anchor="end" fill="#111" >0</text>
<text y="484.9" font-size="10.6" font-weight="bold"><tspan x="250.20000000000002" letter-spacing="0.3">1.0</tspan><tspan x="269.3" font-weight="normal" font-size="11.6">&#956;</tspan><tspan x="290.5" letter-spacing="0.5">IM</tspan></text>
<text transform="translate(276.0,484.9) scale(1.17,1)" font-size="10.6" font-weight="bold">M</text>
<rect x="250.2" y="564.9" width="18.100000000000023" height="14.200000000000045" fill="#000" stroke="#000" stroke-width="1.2"/>
<line x1="259.25" y1="564.9" x2="259.25" y2="559.2" stroke="#000" stroke-width="2" />
<line x1="254.25" y1="559.2" x2="264.25" y2="559.2" stroke="#000" stroke-width="2" />
<clipPath id="cb12"><rect x="277.2" y="543.9" width="18.5" height="35.200000000000045"/></clipPath>
<rect x="277.2" y="543.9" width="18.5" height="35.200000000000045" fill="#fff"/>
<path clip-path="url(#cb12)" d="M283.37,543.9 V579.1 M289.53,543.9 V579.1" stroke="#000" stroke-width="1.1" fill="none"/>
<rect x="277.2" y="543.9" width="18.5" height="35.200000000000045" fill="none" stroke="#000" stroke-width="1.2"/>
<line x1="286.45" y1="543.9" x2="286.45" y2="539.8" stroke="#000" stroke-width="2" />
<line x1="281.45" y1="539.8" x2="291.45" y2="539.8" stroke="#000" stroke-width="2" />
<clipPath id="cb13"><rect x="305.3" y="520.2" width="18.399999999999977" height="58.89999999999998"/></clipPath>
<rect x="305.3" y="520.2" width="18.399999999999977" height="58.89999999999998" fill="#fff"/>
<path clip-path="url(#cb13)" d="M304.3,518.90 L324.7,498.50 M304.3,524.60 L324.7,504.20 M304.3,530.30 L324.7,509.90 M304.3,536.00 L324.7,515.60 M304.3,541.70 L324.7,521.30 M304.3,547.40 L324.7,527.00 M304.3,553.10 L324.7,532.70 M304.3,558.80 L324.7,538.40 M304.3,564.50 L324.7,544.10 M304.3,570.20 L324.7,549.80 M304.3,575.90 L324.7,555.50 M304.3,581.60 L324.7,561.20 M304.3,587.30 L324.7,566.90 M304.3,593.00 L324.7,572.60 M304.3,598.70 L324.7,578.30 M304.3,604.40 L324.7,584.00" stroke="#000" stroke-width="1.15" fill="none"/>
<rect x="305.3" y="520.2" width="18.399999999999977" height="58.89999999999998" fill="none" stroke="#000" stroke-width="1.2"/>
<line x1="314.5" y1="520.2" x2="314.5" y2="518.0" stroke="#000" stroke-width="2" />
<line x1="309.5" y1="518.0" x2="319.5" y2="518.0" stroke="#000" stroke-width="2" />
<clipPath id="cb14"><rect x="332.4" y="547.3" width="18.600000000000023" height="31.800000000000068"/></clipPath>
<rect x="332.4" y="547.3" width="18.600000000000023" height="31.800000000000068" fill="#fff"/>
<path clip-path="url(#cb14)" d="M331.4,521.10 L352,541.70 M331.4,526.80 L352,547.40 M331.4,532.50 L352,553.10 M331.4,538.20 L352,558.80 M331.4,543.90 L352,564.50 M331.4,549.60 L352,570.20 M331.4,555.30 L352,575.90 M331.4,561.00 L352,581.60 M331.4,566.70 L352,587.30 M331.4,572.40 L352,593.00 M331.4,578.10 L352,598.70 M331.4,583.80 L352,604.40" stroke="#000" stroke-width="1.15" fill="none"/>
<rect x="332.4" y="547.3" width="18.600000000000023" height="31.800000000000068" fill="none" stroke="#000" stroke-width="1.2"/>
<line x1="341.7" y1="547.3" x2="341.7" y2="542.5" stroke="#000" stroke-width="2" />
<line x1="336.7" y1="542.5" x2="346.7" y2="542.5" stroke="#000" stroke-width="2" />
<clipPath id="cb15"><rect x="359.5" y="552.3" width="19.0" height="26.800000000000068"/></clipPath>
<rect x="359.5" y="552.3" width="19.0" height="26.800000000000068" fill="#fff"/>
<path clip-path="url(#cb15)" d="M365.83,552.3 V579.1 M372.17,552.3 V579.1 M359.5,576.70 H378.5 M359.5,570.95 H378.5 M359.5,565.20 H378.5 M359.5,559.45 H378.5 M359.5,553.70 H378.5" stroke="#000" stroke-width="1.1" fill="none"/>
<rect x="359.5" y="552.3" width="19.0" height="26.800000000000068" fill="none" stroke="#000" stroke-width="1.2"/>
<line x1="369.0" y1="552.3" x2="369.0" y2="548.7" stroke="#000" stroke-width="2" />
<line x1="364.0" y1="548.7" x2="374.0" y2="548.7" stroke="#000" stroke-width="2" />
<line x1="239.8" y1="579.1" x2="383" y2="579.1" stroke="#222" stroke-width="1.3" />
<text transform="translate(207.9,536.2) rotate(-90)" font-size="11.3" font-weight="bold" text-anchor="middle" letter-spacing="0.45">%Apoptosis</text>
<text id="lbCR0" transform="translate(262.45,591.6) rotate(-45)" font-size="11.4" font-weight="bold" text-anchor="end">MIG R1</text>
<text id="lbCR1" transform="translate(289.65,591.6) rotate(-45)" font-size="11.4" font-weight="bold" text-anchor="end">M351T<tspan font-size="8" dy="-5.5">lo</tspan></text>
<text id="lbCR2" transform="translate(317.75,591.6) rotate(-45)" font-size="11.4" font-weight="bold" text-anchor="end">M351T<tspan font-size="8" dy="-5.5">hi</tspan></text>
<text id="lbCR3" transform="translate(344.95,591.6) rotate(-45)" font-size="11.4" font-weight="bold" text-anchor="end">E255K<tspan font-size="8" dy="-5.5">lo</tspan></text>
<text id="lbCR4" transform="translate(372.25,591.6) rotate(-45)" font-size="11.4" font-weight="bold" text-anchor="end">E255K<tspan font-size="8" dy="-5.5">hi</tspan></text>
<path d="M278.5,513.5 V503.6 H314.8 V513.5" fill="none" stroke="#222" stroke-width="1.2"/>
<path id="astC" d="M296.20,497.70 L296.20,494.30 M296.20,497.70 L299.43,496.65 M296.20,497.70 L298.20,500.45 M296.20,497.70 L294.20,500.45 M296.20,497.70 L292.97,496.65" stroke="#000" stroke-width="1.45" stroke-linecap="round" fill="none"/>
</svg>
</body></html>
